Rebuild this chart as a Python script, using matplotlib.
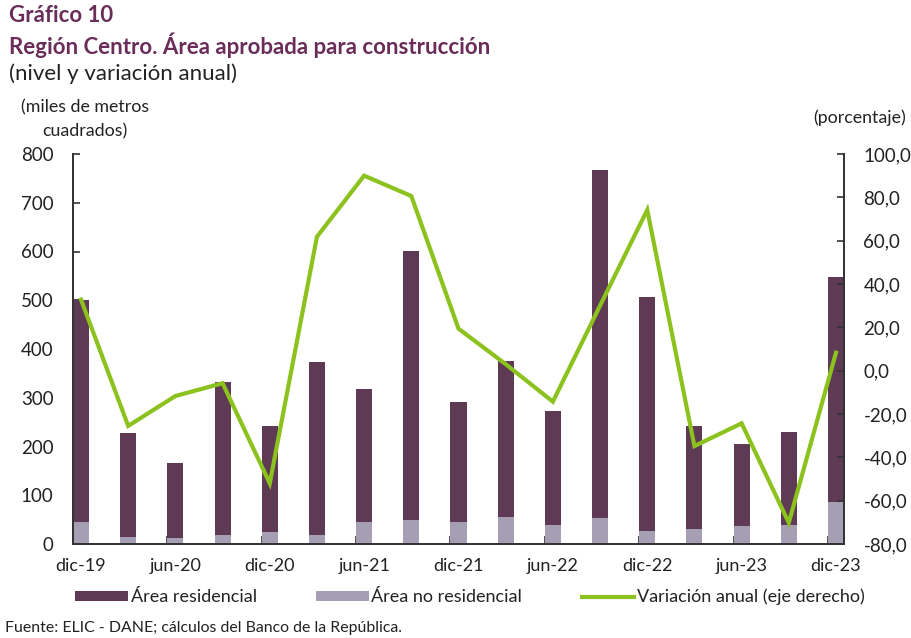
import matplotlib
matplotlib.use("Agg")
import matplotlib.pyplot as plt
from matplotlib.patches import Patch
from matplotlib.lines import Line2D
import numpy as np

plt.rcParams['font.family'] = ['Lato', 'DejaVu Sans']

quarters = ["dic-19", "mar-20", "jun-20", "sep-20", "dic-20", "mar-21", "jun-21", "sep-21",
            "dic-21", "mar-22", "jun-22", "sep-22", "dic-22", "mar-23", "jun-23", "sep-23", "dic-23"]
residencial = [455, 213, 155, 314, 218, 354, 271, 552, 245, 319, 234, 713, 480, 213, 170, 190, 462]
no_residencial = [46, 14, 12, 19, 25, 19, 46, 49, 46, 56, 38, 54, 27, 30, 36, 40, 86]
variacion = [32.8, -25.5, -11.7, -5.8, -52.0, 61.8, 90.0, 80.6, 19.4, 3.0, -14.3, 30.0,
             74.2, -34.8, -24.3, -70.2, 8.3]
left_ticks = [0, 100, 200, 300, 400, 500, 600, 700, 800]
right_ticks = [-80, -60, -40, -20, 0, 20, 40, 60, 80, 100]

c_res = "#5E3A55"
c_nores = "#A69FB3"
c_line = "#8CC21E"
c_title = "#6A2C58"
c_text = "#222222"
c_axis = "#333333"

fig = plt.figure(figsize=(9.12, 6.38), dpi=100)
ax = fig.add_axes([73/912, 1-544/638, (844-73)/912, (544-154)/638])
ax2 = ax.twinx()

x = np.arange(len(quarters))
w = 0.34
ax.bar(x, no_residencial, width=w, color=c_nores, zorder=2)
ax.bar(x, residencial, width=w, bottom=no_residencial, color=c_res, zorder=2)
ax2.plot(x, variacion, color=c_line, lw=3, solid_joinstyle='miter', zorder=3)

ax.set_xlim(-w/2, len(quarters)-1+w/2)
ax.set_ylim(0, 800)
ax2.set_ylim(-80, 100)

ax.set_yticks(left_ticks)
ax.set_yticklabels([str(v) for v in left_ticks])
ax2.set_yticks(right_ticks)
ax2.set_yticklabels([f"{v:.1f}".replace(".", ",") for v in right_ticks])

ax.set_xticks(x[::2])
ax.set_xticklabels(quarters[::2])
ax.set_xticks([i - w/2 for i in x[2::2]], minor=True)
ax.tick_params(axis='x', which='major', length=0, pad=10, labelsize=13, colors=c_text)
ax.tick_params(axis='x', which='minor', direction='in', length=6, width=1.2, color=c_axis)
ax.tick_params(axis='y', direction='in', length=5, width=1.2, color=c_axis, pad=14,
               labelsize=13.5, labelcolor=c_text)
ax2.tick_params(axis='y', direction='in', length=5, width=1.2, color=c_axis, pad=14,
                labelsize=13.5, labelcolor=c_text)

for a in (ax, ax2):
    a.spines['top'].set_visible(False)
    for s in ('left', 'right', 'bottom'):
        a.spines[s].set_color(c_axis)
        a.spines[s].set_linewidth(1.3)

fig.text(9/912, 1-16/638, "Gráfico 10", fontsize=16, fontweight='bold', color=c_title, va='center')
fig.text(9/912, 1-45/638, "Región Centro. Área aprobada para construcción", fontsize=16,
         fontweight='bold', color=c_title, va='center')
fig.text(9/912, 1-74/638, "(nivel y variación anual)", fontsize=16, color=c_text, va='center')
fig.text(85/912, 1-107/638, "(miles de metros", fontsize=12.8, color=c_text, ha='center', va='center')
fig.text(85/912, 1-131/638, "cuadrados)", fontsize=12.8, color=c_text, ha='center', va='center')
fig.text(860/912, 1-118/638, "(porcentaje)", fontsize=12.8, color=c_text, ha='center', va='center')

handles = [Patch(facecolor=c_res), Patch(facecolor=c_nores),
           Line2D([0], [0], color=c_line, lw=3)]
labels = ["Área residencial", "Área no residencial", "Variación anual (eje derecho)"]
fig.legend(handles, labels, loc='center', bbox_to_anchor=(470/912, 1-597/638), ncol=3,
           frameon=False, fontsize=13, handlelength=2.9, handleheight=0.5,
           columnspacing=3.3, handletextpad=0.15, labelcolor=c_text)

fig.text(5/912, 1-628/638, "Fuente: ELIC - DANE; cálculos del Banco de la República.",
         fontsize=11.4, color=c_text, va='center')

fig.savefig("out.png", dpi=100)
